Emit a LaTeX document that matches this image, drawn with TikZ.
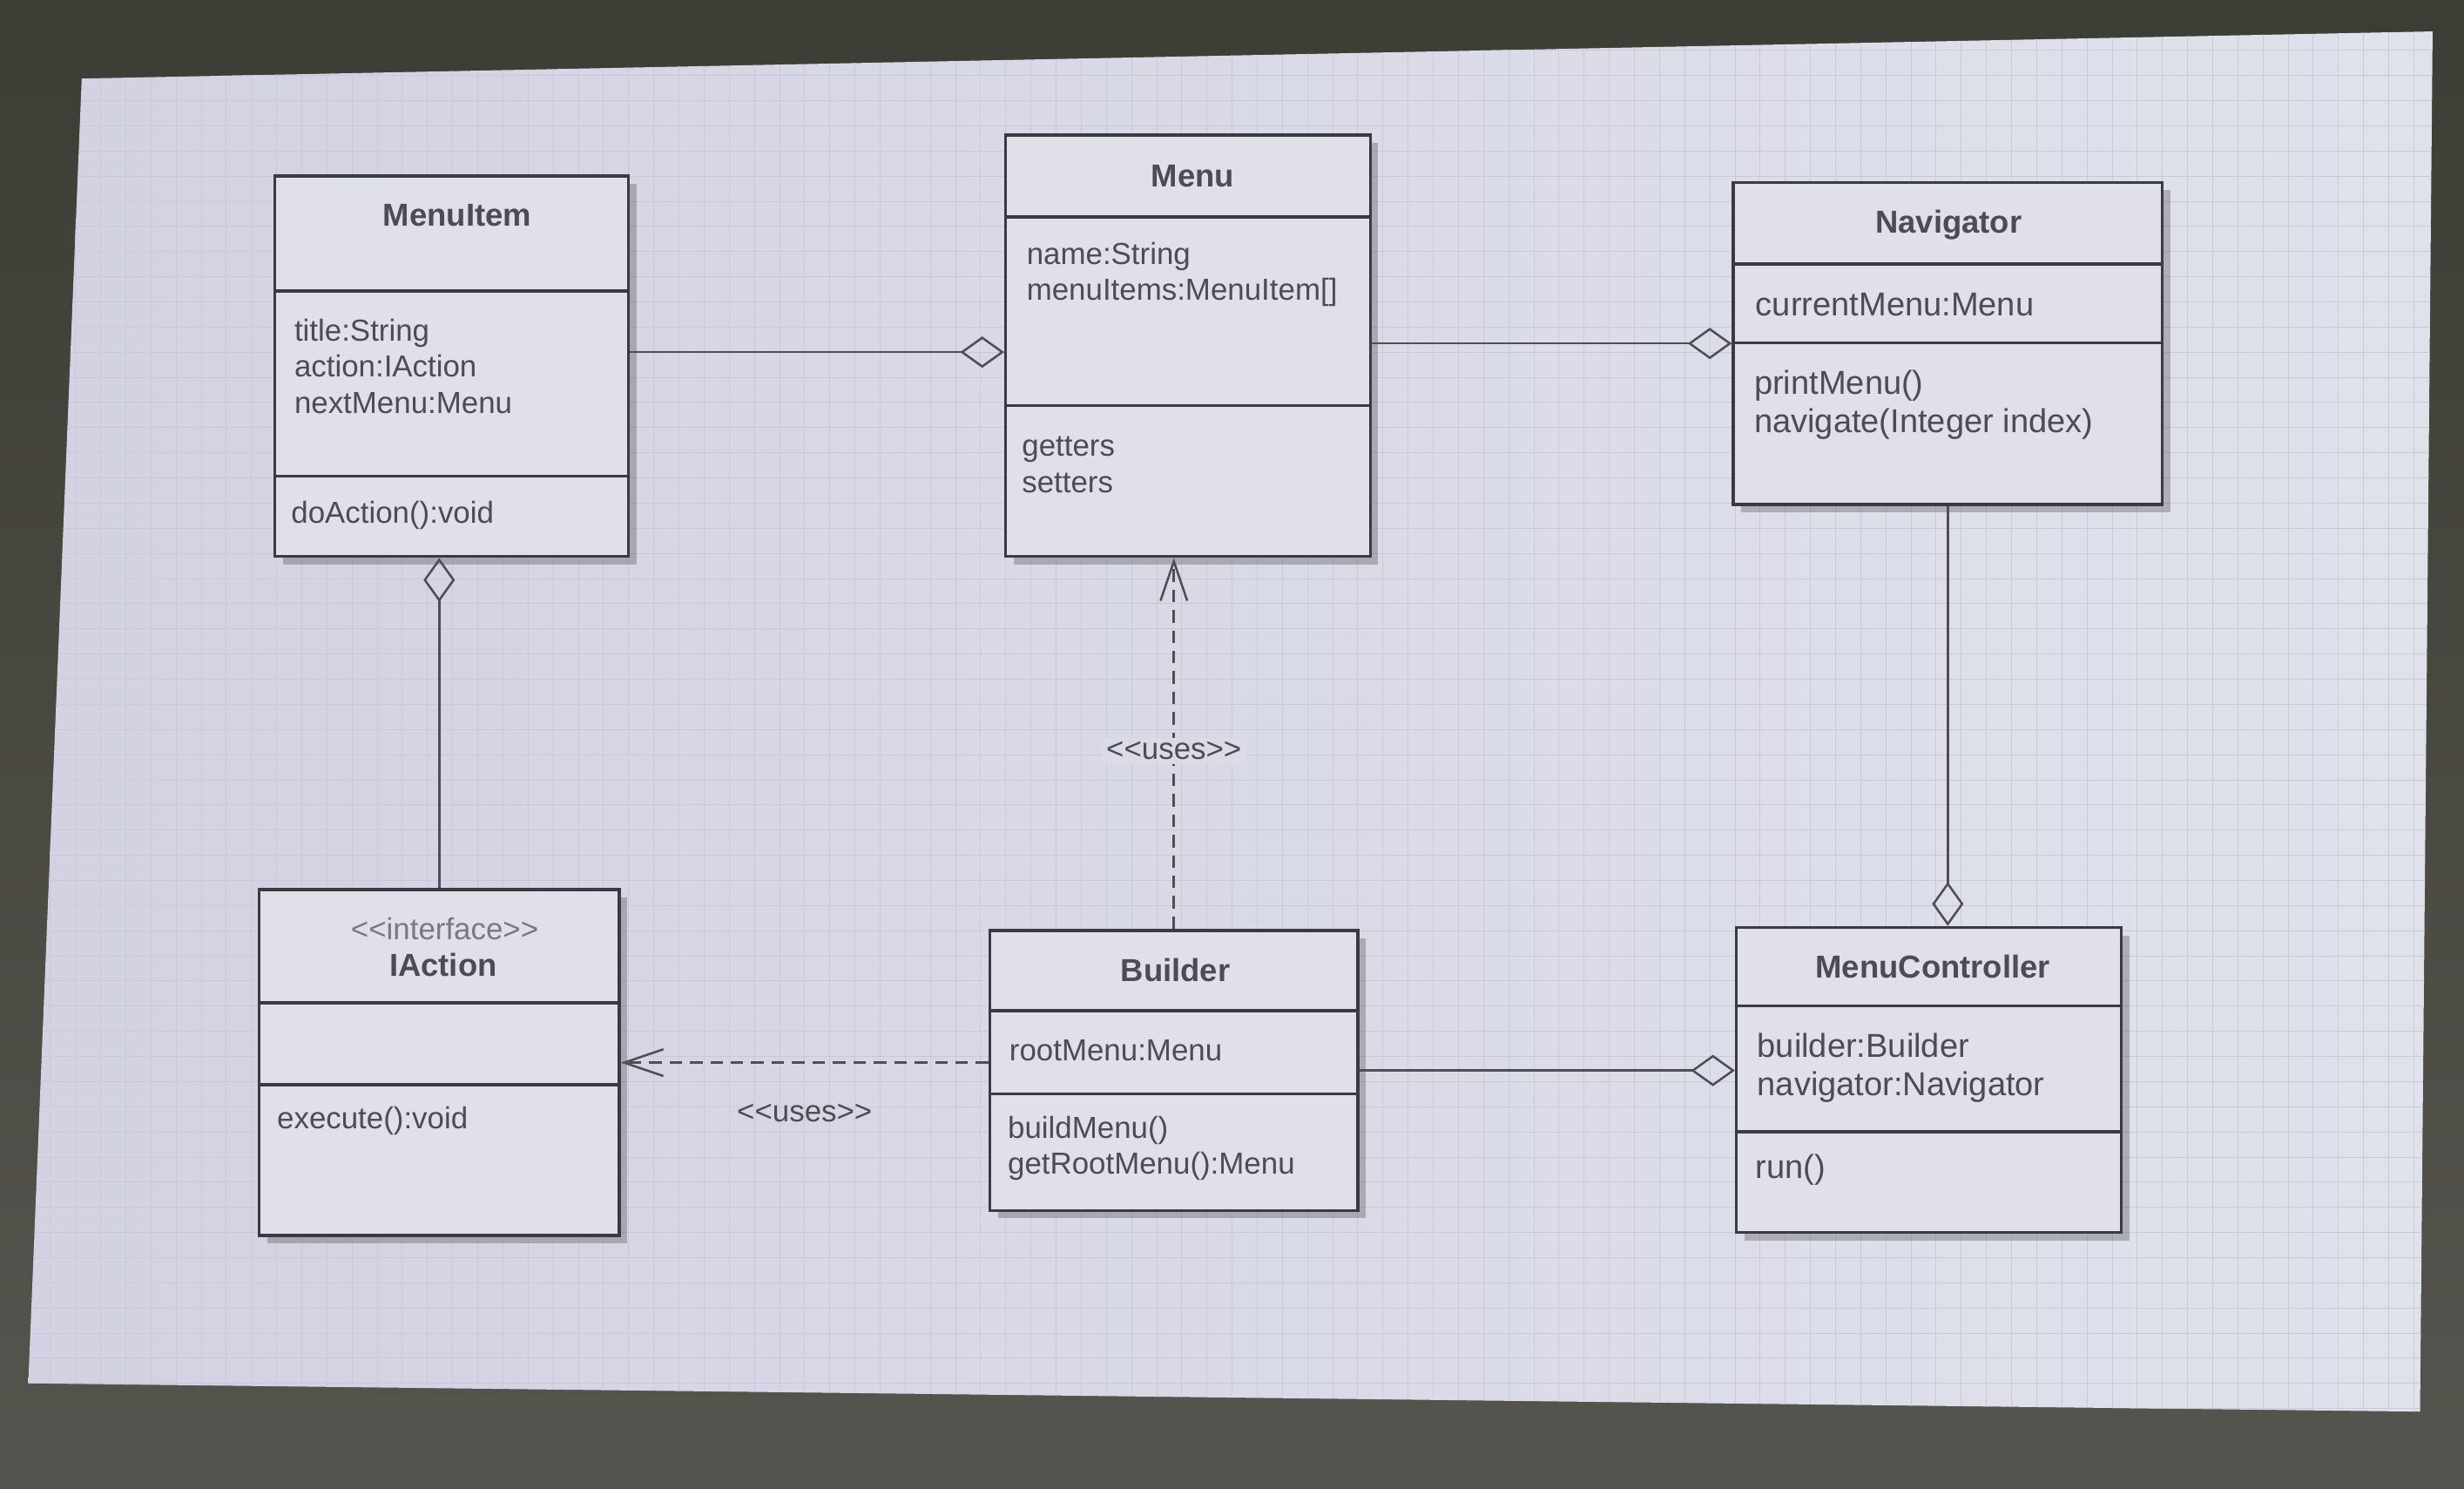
\documentclass[tikz,border=0pt]{standalone}
\usepackage{fontspec}
\setmainfont{Liberation Sans}
\usepackage{xcolor}
\usetikzlibrary{arrows.meta,shadows}

\definecolor{frametop}{HTML}{3C3D34}
\definecolor{framebot}{HTML}{55554F}
\definecolor{screenl}{HTML}{D3D1E2}
\definecolor{screenr}{HTML}{DFE2EB}
\definecolor{gridc}{HTML}{C8CAD9}
\definecolor{boxfill}{HTML}{DFE0E8}
\definecolor{boxline}{HTML}{3A3A44}
\definecolor{txt}{HTML}{4C4C54}

\begin{document}
\begin{tikzpicture}[x=0.2mm, y=-0.2mm,
  classbox/.style={draw=boxline, line width=1.1pt, fill=boxfill, inner sep=0pt,
    drop shadow={shadow xshift=1mm, shadow yshift=-1mm, fill=black, opacity=0.22}},
  sep/.style={draw=boxline, line width=1.1pt},
  title/.style={font=\fontsize{11.5}{13}\selectfont\bfseries, text=txt, inner sep=0pt},
  stereo/.style={font=\fontsize{11}{13}\selectfont, text=txt!75, inner sep=0pt},
  member/.style={font=\fontsize{11}{13.1}\selectfont, text=txt, align=left, anchor=west, inner sep=0pt},
  bigmember/.style={member, font=\fontsize{12}{13.8}\selectfont},
  aggr/.style={draw=boxline!90, line width=0.8pt, -{Diamond[open, length=5.6mm, width=4mm]}},
  uses/.style={draw=boxline!90, line width=0.8pt, dash pattern=on 1.6mm off 1mm,
    -{Straight Barb[length=5mm, width=3.4mm]}},
  useslabel/.style={font=\fontsize{11}{13}\selectfont, text=txt, inner sep=1.5pt}]

  \useasboundingbox (0,0) rectangle (1568,947);

  % Projector screen with grid
  \fill[top color=frametop, bottom color=framebot] (0,0) rectangle (1568,947);
  \path[left color=screenl, right color=screenr] (52,50) -- (1548,20) -- (1540,898) -- (18,880) -- cycle;
  \begin{scope}
    \clip (52,50) -- (1548,20) -- (1540,898) -- (18,880) -- cycle;
    \draw[gridc, line width=0.25pt, step=3.2mm] (0,947) grid (1568,0);
  \end{scope}

  % MenuItem
  \node[classbox, minimum width=45mm, minimum height=48.4mm] (menuitem) at (287.5,233) {};
  \draw[sep] (menuitem.west |- 0,185) -- (menuitem.east |- 0,185);
  \draw[sep] (menuitem.west |- 0,303) -- (menuitem.east |- 0,303);
  \node[title] (menuitem-name) at (291,137) {MenuItem};
  \node[member] (menuitem-attr) at (187,233) {title:String\\action:IAction\\nextMenu:Menu};
  \node[member] (menuitem-ops) at (185,328) {doAction():void};

  % Menu
  \node[classbox, minimum width=46.4mm, minimum height=53.6mm] (menu) at (756,220) {};
  \draw[sep] (menu.west |- 0,138) -- (menu.east |- 0,138);
  \draw[sep] (menu.west |- 0,258) -- (menu.east |- 0,258);
  \node[title] (menu-name) at (759,112) {Menu};
  \node[member] (menu-attr) at (653,174.5) {name:String\\menuItems:MenuItem[]};
  \node[member] (menu-ops) at (650,295.5) {getters\\setters};

  % Navigator
  \node[classbox, minimum width=54.6mm, minimum height=41mm] (navigator) at (1239.5,218.5) {};
  \draw[sep] (navigator.west |- 0,168) -- (navigator.east |- 0,168);
  \draw[sep] (navigator.west |- 0,218) -- (navigator.east |- 0,218);
  \node[title] (navigator-name) at (1240,143) {Navigator};
  \node[bigmember] (navigator-attr) at (1117,194) {currentMenu:Menu};
  \node[bigmember] (navigator-ops) at (1116,257.5) {printMenu()\\navigate(Integer index)};

  % IAction
  \node[classbox, minimum width=45.8mm, minimum height=44mm] (iaction) at (279.5,676) {};
  \draw[sep] (iaction.west |- 0,638) -- (iaction.east |- 0,638);
  \draw[sep] (iaction.west |- 0,690) -- (iaction.east |- 0,690);
  \node[stereo] (iaction-stereo) at (283,591) {<{}<interface>{}>};
  \node[title] (iaction-name) at (282,614) {IAction};
  \node[member] (iaction-ops) at (176,713) {execute():void};

  % Builder
  \node[classbox, minimum width=46.8mm, minimum height=35.6mm] (builder) at (747,681) {};
  \draw[sep] (builder.west |- 0,643) -- (builder.east |- 0,643);
  \draw[sep] (builder.west |- 0,696) -- (builder.east |- 0,696);
  \node[title] (builder-name) at (748,617) {Builder};
  \node[member] (builder-attr) at (642,668) {rootMenu:Menu};
  \node[member] (builder-ops) at (641,730.5) {buildMenu()\\getRootMenu():Menu};

  % MenuController
  \node[classbox, minimum width=49mm, minimum height=38.8mm] (menuctrl) at (1227.5,687) {};
  \draw[sep] (menuctrl.west |- 0,640) -- (menuctrl.east |- 0,640);
  \draw[sep] (menuctrl.west |- 0,720) -- (menuctrl.east |- 0,720);
  \node[title] (menuctrl-name) at (1230,615) {MenuController};
  \node[bigmember] (menuctrl-attr) at (1118,679.5) {builder:Builder\\navigator:Navigator};
  \node[bigmember] (menuctrl-ops) at (1117,744) {run()};

  % Aggregations
  \draw[aggr] ([yshift=-0.8mm]menuitem.east |- menu.west) -- ([yshift=-0.8mm]menu.west);
  \draw[aggr] (menu.east |- navigator.west) -- (navigator.west);
  \draw[aggr] (iaction.north) -- (iaction.north |- menuitem.south);
  \draw[aggr] (navigator.south) -- (navigator.south |- menuctrl.north);
  \draw[aggr] (builder.east) -- (builder.east -| menuctrl.west);

  % Dependencies
  \draw[uses] (builder.north) -- (builder.north |- menu.south)
    node[useslabel, fill=screenr!60!screenl, pos=0.48] (uses-menu) {<{}<uses>{}>};
  \draw[uses] (builder.west |- iaction.east) -- (iaction.east)
    node[useslabel, midway, below=4.6mm] (uses-iaction) {<{}<uses>{}>};
\end{tikzpicture}
\end{document}
